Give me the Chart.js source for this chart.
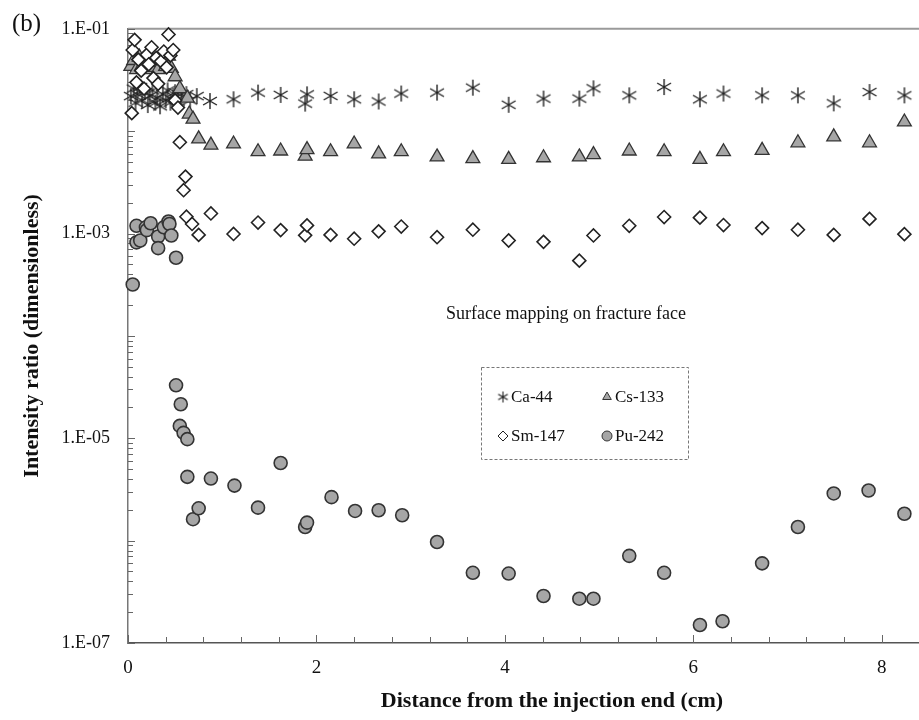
<!DOCTYPE html>
<html>
<head>
<meta charset="utf-8">
<script src="https://cdn.jsdelivr.net/npm/chart.js@4.4.1/dist/chart.umd.min.js"></script>
<style>
  html, body { margin: 0; padding: 0; background: #fff; overflow: hidden; }
  #wrap { width: 919px; height: 720px; overflow: hidden; position: relative; }
</style>
</head>
<body>
<div id="wrap"><canvas id="grafico" width="990" height="720"></canvas></div>
<script>
const nomes = ['Ca-44', 'Cs-133', 'Sm-147', 'Pu-242'];

const caX = [0.03, 0.06, 0.08, 0.10, 0.13, 0.15, 0.18, 0.21, 0.23, 0.26, 0.29, 0.31, 0.34, 0.37, 0.40, 0.42, 0.45, 0.48, 0.50, 0.53, 0.57, 0.62, 0.66, 0.73, 0.87, 1.12, 1.38, 1.62, 1.88, 1.90, 2.15, 2.40, 2.66, 2.90, 3.28, 3.66, 4.04, 4.41, 4.79, 4.94, 5.32, 5.69, 6.07, 6.32, 6.73, 7.11, 7.49, 7.87, 8.24];
const caY = [2.2e-2, 2.6e-2, 1.9e-2, 2.3e-2, 2.7e-2, 2.0e-2, 2.4e-2, 1.8e-2, 2.2e-2, 2.5e-2, 1.9e-2, 2.1e-2, 1.75e-2, 2.3e-2, 2.0e-2, 2.5e-2, 1.9e-2, 2.2e-2, 2.4e-2, 1.95e-2, 2.3e-2, 2.3e-2, 2.0e-2, 2.2e-2, 1.97e-2, 2.05e-2, 2.38e-2, 2.26e-2, 1.86e-2, 2.29e-2, 2.21e-2, 2.05e-2, 1.95e-2, 2.33e-2, 2.38e-2, 2.66e-2, 1.81e-2, 2.08e-2, 2.08e-2, 2.62e-2, 2.24e-2, 2.70e-2, 2.05e-2, 2.33e-2, 2.24e-2, 2.24e-2, 1.87e-2, 2.41e-2, 2.24e-2];

const csX = [0.03, 0.06, 0.09, 0.12, 0.15, 0.19, 0.22, 0.25, 0.29, 0.32, 0.36, 0.40, 0.43, 0.46, 0.50, 0.55, 0.63, 0.65, 0.69, 0.75, 0.88, 1.12, 1.38, 1.62, 1.88, 1.90, 2.15, 2.40, 2.66, 2.90, 3.28, 3.66, 4.04, 4.41, 4.79, 4.94, 5.32, 5.69, 6.07, 6.32, 6.73, 7.11, 7.49, 7.87, 8.24];
const csY = [4.3e-2, 4.9e-2, 4.0e-2, 5.3e-2, 4.4e-2, 4.0e-2, 5.0e-2, 4.2e-2, 4.7e-2, 4.0e-2, 4.9e-2, 4.3e-2, 5.4e-2, 4.1e-2, 3.4e-2, 2.6e-2, 2.1e-2, 1.47e-2, 1.31e-2, 8.4e-3, 7.3e-3, 7.5e-3, 6.3e-3, 6.4e-3, 5.7e-3, 6.6e-3, 6.3e-3, 7.5e-3, 6.0e-3, 6.3e-3, 5.6e-3, 5.4e-3, 5.3e-3, 5.5e-3, 5.6e-3, 5.9e-3, 6.4e-3, 6.3e-3, 5.3e-3, 6.3e-3, 6.5e-3, 7.7e-3, 8.8e-3, 7.7e-3, 1.23e-2];

const smX = [0.04, 0.05, 0.07, 0.09, 0.11, 0.14, 0.17, 0.20, 0.22, 0.25, 0.27, 0.30, 0.32, 0.35, 0.38, 0.41, 0.43, 0.45, 0.48, 0.50, 0.53, 0.55, 0.59, 0.61, 0.62, 0.68, 0.75, 0.88, 1.12, 1.38, 1.62, 1.88, 1.90, 2.15, 2.40, 2.66, 2.90, 3.28, 3.66, 4.04, 4.41, 4.79, 4.94, 5.32, 5.69, 6.07, 6.32, 6.73, 7.11, 7.49, 7.87, 8.24];
const smY = [1.5e-2, 6.2e-2, 7.8e-2, 3.0e-2, 5.0e-2, 3.9e-2, 2.6e-2, 5.6e-2, 4.5e-2, 6.6e-2, 3.3e-2, 5.2e-2, 2.9e-2, 4.8e-2, 6.0e-2, 4.2e-2, 8.8e-2, 5.5e-2, 6.2e-2, 2.0e-2, 1.7e-2, 7.8e-3, 2.65e-3, 3.6e-3, 1.46e-3, 1.24e-3, 9.7e-4, 1.57e-3, 9.9e-4, 1.28e-3, 1.08e-3, 9.6e-4, 1.2e-3, 9.7e-4, 8.9e-4, 1.05e-3, 1.17e-3, 9.2e-4, 1.09e-3, 8.55e-4, 8.3e-4, 5.43e-4, 9.57e-4, 1.19e-3, 1.45e-3, 1.43e-3, 1.21e-3, 1.13e-3, 1.09e-3, 9.7e-4, 1.39e-3, 9.86e-4];

const puX = [0.05, 0.09, 0.09, 0.13, 0.19, 0.20, 0.24, 0.32, 0.32, 0.38, 0.43, 0.44, 0.46, 0.51, 0.51, 0.56, 0.55, 0.59, 0.63, 0.63, 0.69, 0.75, 0.88, 1.13, 1.38, 1.62, 1.88, 1.90, 2.16, 2.41, 2.66, 2.91, 3.28, 3.66, 4.04, 4.41, 4.79, 4.94, 5.32, 5.69, 6.07, 6.31, 6.73, 7.11, 7.49, 7.86, 8.24];
const puY = [3.18e-4, 1.19e-3, 8.2e-4, 8.55e-4, 1.15e-3, 1.08e-3, 1.26e-3, 9.35e-4, 7.2e-4, 1.15e-3, 1.31e-3, 1.24e-3, 9.57e-4, 5.8e-4, 3.29e-5, 2.15e-5, 1.32e-5, 1.13e-5, 9.8e-6, 4.2e-6, 1.62e-6, 2.07e-6, 4.04e-6, 3.45e-6, 2.1e-6, 5.73e-6, 1.36e-6, 1.5e-6, 2.66e-6, 1.95e-6, 1.98e-6, 1.77e-6, 9.7e-7, 4.85e-7, 4.77e-7, 2.88e-7, 2.71e-7, 2.71e-7, 7.1e-7, 4.85e-7, 1.5e-7, 1.63e-7, 6.0e-7, 1.36e-6, 2.89e-6, 3.09e-6, 1.83e-6];

const xTicks = [0, 2, 4, 6, 8];
const yTicks = [1e-7, 1e-5, 1e-3, 1e-1];
const yTickLabels = ['1.E-07', '1.E-05', '1.E-03', '1.E-01'];

const fonte = '"Liberation Serif", "Times New Roman", serif';
const cinza = '#a6a6a6';
const borda = '#333';

function pares(xs, ys) {
  return xs.map((x, i) => ({ x, y: ys[i] }));
}

// asterisco de 6 pontas (marcador do Excel)
function asterisco(tam, larg) {
  const c = document.createElement('canvas');
  c.width = tam; c.height = tam;
  const g = c.getContext('2d');
  g.strokeStyle = '#222';
  g.lineWidth = larg;
  const m = tam / 2, r = tam / 2 - 1;
  g.beginPath();
  for (let k = 0; k < 3; k++) {
    const a = Math.PI / 2 + k * Math.PI / 3;
    g.moveTo(m + r * Math.cos(a), m - r * Math.sin(a));
    g.lineTo(m - r * Math.cos(a), m + r * Math.sin(a));
  }
  g.stroke();
  return c;
}

const astGrande = asterisco(18, 1.4);
const astPequeno = asterisco(13, 1.1);

const eixos = {
  id: 'eixos',
  beforeDatasetsDraw(chart) {
    const { ctx, chartArea: a, scales: { x, y } } = chart;
    ctx.save();
    ctx.strokeStyle = '#9a9a9a';
    ctx.lineWidth = 2;
    ctx.beginPath();
    ctx.moveTo(a.left, a.top);
    ctx.lineTo(a.right, a.top);
    ctx.stroke();

    ctx.strokeStyle = '#666';
    ctx.lineWidth = 1;
    ctx.beginPath();
    for (let k = 0; k * 0.4 <= x.max + 1e-9; k++) {
      const px = Math.round(x.getPixelForValue(k * 0.4)) + 0.5;
      const len = k % 5 === 0 ? 8 : 6;
      ctx.moveTo(px, a.bottom);
      ctx.lineTo(px, a.bottom - len);
    }
    for (let e = -7; e <= -1; e++) {
      for (let m = 1; m <= 9; m++) {
        const v = m * Math.pow(10, e);
        if (v > y.max * 1.0001) break;
        const py = Math.round(y.getPixelForValue(v)) + 0.5;
        const len = m === 1 ? 7 : 5;
        ctx.moveTo(a.left, py);
        ctx.lineTo(a.left + len, py);
      }
    }
    ctx.stroke();
    ctx.restore();
  },
  afterDraw(chart) {
    const { ctx } = chart;
    ctx.save();
    ctx.fillStyle = '#111';
    ctx.textBaseline = 'middle';
    ctx.font = '25px ' + fonte;
    ctx.textAlign = 'left';
    ctx.fillText('(b)', 12, 24);

    ctx.font = '18px ' + fonte;
    ctx.textAlign = 'center';
    ctx.fillText('Surface mapping on fracture face', 566, 314);

    // caixa da legenda
    ctx.strokeStyle = '#777';
    ctx.lineWidth = 1;
    ctx.setLineDash([3, 2]);
    ctx.strokeRect(481.5, 367.5, 207, 92);
    ctx.setLineDash([]);

    const pos = [[503, 397], [607, 397], [503, 436], [607, 436]];
    ctx.font = '17px ' + fonte;
    ctx.textAlign = 'left';
    chart.data.datasets.forEach((ds, i) => {
      const [mx, my] = pos[i];
      ctx.fillStyle = ds.backgroundColor;
      ctx.strokeStyle = ds.borderColor;
      ctx.lineWidth = 1;
      const estilo = ds.pointStyle === astGrande ? astPequeno : ds.pointStyle;
      Chart.helpers.drawPoint(ctx, { pointStyle: estilo, radius: 5, borderWidth: 1, rotation: 0 }, mx, my);
      ctx.fillStyle = '#111';
      ctx.fillText(ds.label, mx + 8, my + 1);
    });
    ctx.restore();
  }
};

new Chart(document.getElementById('grafico'), {
  type: 'scatter',
  data: {
    datasets: [
      { label: nomes[0], data: pares(caX, caY), pointStyle: astGrande, backgroundColor: '#222', borderColor: '#222', order: 4 },
      { label: nomes[1], data: pares(csX, csY), pointStyle: 'triangle', radius: 8, borderWidth: 1.3, backgroundColor: cinza, borderColor: borda, order: 3 },
      { label: nomes[2], data: pares(smX, smY), pointStyle: 'rectRot', radius: 6.5, borderWidth: 1.6, backgroundColor: '#fff', borderColor: '#222', order: 2 },
      { label: nomes[3], data: pares(puX, puY), pointStyle: 'circle', radius: 6.5, borderWidth: 1.6, backgroundColor: cinza, borderColor: borda, order: 1 }
    ].map(d => Object.assign({ clip: false, pointHoverRadius: d.radius }, d))
  },
  options: {
    responsive: false,
    devicePixelRatio: 1,
    animation: false,
    layout: { padding: { top: 24, right: 14, bottom: 0, left: 0 } },
    plugins: { legend: { display: false }, tooltip: { enabled: false } },
    scales: {
      x: {
        type: 'linear',
        min: 0,
        max: 9,
        afterBuildTicks: s => { s.ticks = xTicks.map(v => ({ value: v })); },
        afterFit: s => { s.height = 77; },
        grid: { display: false, drawTicks: false },
        border: { display: true, color: '#555', width: 1.5 },
        ticks: { autoSkip: false, maxRotation: 0, padding: 14, color: '#111', font: { family: fonte, size: 19 } },
        title: {
          display: true,
          text: 'Distance from the injection end (cm)',
          color: '#111',
          font: { family: fonte, size: 22, weight: 'bold' },
          padding: { top: 0, bottom: 5 }
        }
      },
      y: {
        type: 'logarithmic',
        min: 1e-7,
        max: 1e-1,
        afterBuildTicks: s => { s.ticks = yTicks.map(v => ({ value: v })); },
        afterFit: s => { s.width = 128; },
        grid: { display: false, drawTicks: false },
        border: { display: true, color: '#777', width: 1.5 },
        ticks: {
          autoSkip: false,
          padding: 18,
          color: '#111',
          font: { family: fonte, size: 18 },
          callback: (v, i) => yTickLabels[i]
        },
        title: {
          display: true,
          text: 'Intensity ratio (dimensionless)',
          color: '#111',
          font: { family: fonte, size: 22, weight: 'bold' },
          padding: { top: 19, bottom: 0 }
        }
      }
    }
  },
  plugins: [eixos]
});
</script>
</body>
</html>
